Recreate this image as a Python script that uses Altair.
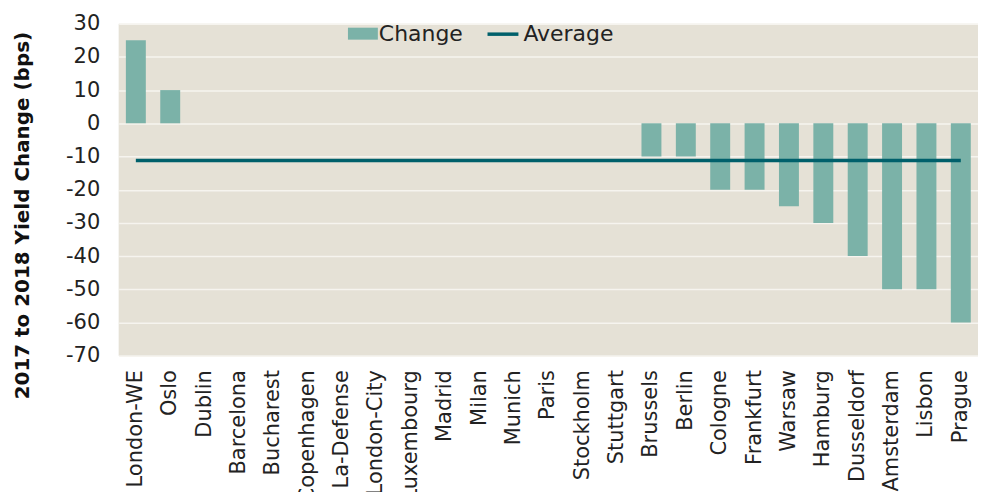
import altair as alt
import pandas as pd

cities = ["London-WE", "Oslo", "Dublin", "Barcelona", "Bucharest", "Copenhagen",
          "La-Defense", "London-City", "Luxembourg", "Madrid", "Milan", "Munich",
          "Paris", "Stockholm", "Stuttgart", "Brussels", "Berlin", "Cologne",
          "Frankfurt", "Warsaw", "Hamburg", "Dusseldorf", "Amsterdam", "Lisbon", "Prague"]
changes = [25, 10, 0, 0, 0, 0, 0, 0, 0, 0, 0, 0, 0, 0, 0,
           -10, -10, -20, -20, -25, -30, -40, -50, -50, -60]
y_ticks = [-70, -60, -50, -40, -30, -20, -10, 0, 10, 20, 30]

df = pd.DataFrame({"city": cities, "change": changes})

FONT = "DejaVu Sans"
BAR = "#7bb2a8"
LINE = "#00606b"
BG = "#e5e1d6"
TXT = "#222222"
YTITLE = "2017 to 2018 Yield Change (bps)"

x_enc = alt.X(
    "city:N", sort=cities,
    scale=alt.Scale(paddingInner=0.42, paddingOuter=0.21),
    axis=alt.Axis(title=None, labelAngle=270, labelFontSize=21, labelPadding=14,
                  ticks=False, domain=False, grid=False, labelColor=TXT,
                  labelFont=FONT, labelLimit=300, labelOverlap=False),
)
y_axis = alt.Axis(values=y_ticks, title=YTITLE, titleFont=FONT, titleFontSize=20,
                  titleFontWeight="bold", titleColor="#111111", titleAngle=270,
                  titleX=-96, titleY=192, titleAlign="center", titleBaseline="middle",
                  labelFont=FONT, labelFontSize=21, labelColor=TXT, labelPadding=19,
                  labelOverlap=False, labelExpr="datum.value + ''",
                  ticks=False, domain=False, grid=True, gridColor="#f6f4ef",
                  gridWidth=1.5)
y_scale = alt.Scale(domain=[-70, 30], nice=False, zero=False)

bars = alt.Chart(df).transform_calculate(series="'Change'").mark_bar().encode(
    x=x_enc,
    y=alt.Y("change:Q", scale=y_scale, axis=y_axis),
    fill=alt.Fill("series:N", scale=alt.Scale(domain=["Change"], range=[BAR]),
                  legend=alt.Legend(title=None, orient="none", legendX=234, legendY=-1,
                                    symbolType="M-2.5,-1H2.5V1H-2.5Z", symbolSize=144,
                                    symbolStrokeWidth=0, labelFont=FONT, labelFontSize=22,
                                    labelColor=TXT, labelOffset=5, padding=0)),
)

line = alt.Chart(df).transform_joinaggregate(
    avg="mean(change)"
).transform_calculate(series2="'Average'").mark_line(strokeWidth=3.5).encode(
    x=x_enc,
    y=alt.Y("avg:Q", scale=y_scale, axis=y_axis),
    stroke=alt.Stroke("series2:N", scale=alt.Scale(domain=["Average"], range=[LINE]),
                      legend=alt.Legend(title=None, orient="none", legendX=368, legendY=-7,
                                        symbolType="stroke", symbolSize=961,
                                        symbolStrokeWidth=3.5, labelFont=FONT,
                                        labelFontSize=22, labelColor=TXT, labelOffset=3,
                                        padding=0)),
)

chart = alt.layer(bars, line).resolve_legend(fill="independent", stroke="independent").properties(
    width=862, height=333,
    autosize=alt.AutoSizeParams(type="none"),
    padding={"left": 111, "top": 15, "right": 0, "bottom": 136},
).configure_view(fill=BG, strokeWidth=0)

chart.save("out.html", embed_options={"renderer": "svg", "actions": False})
